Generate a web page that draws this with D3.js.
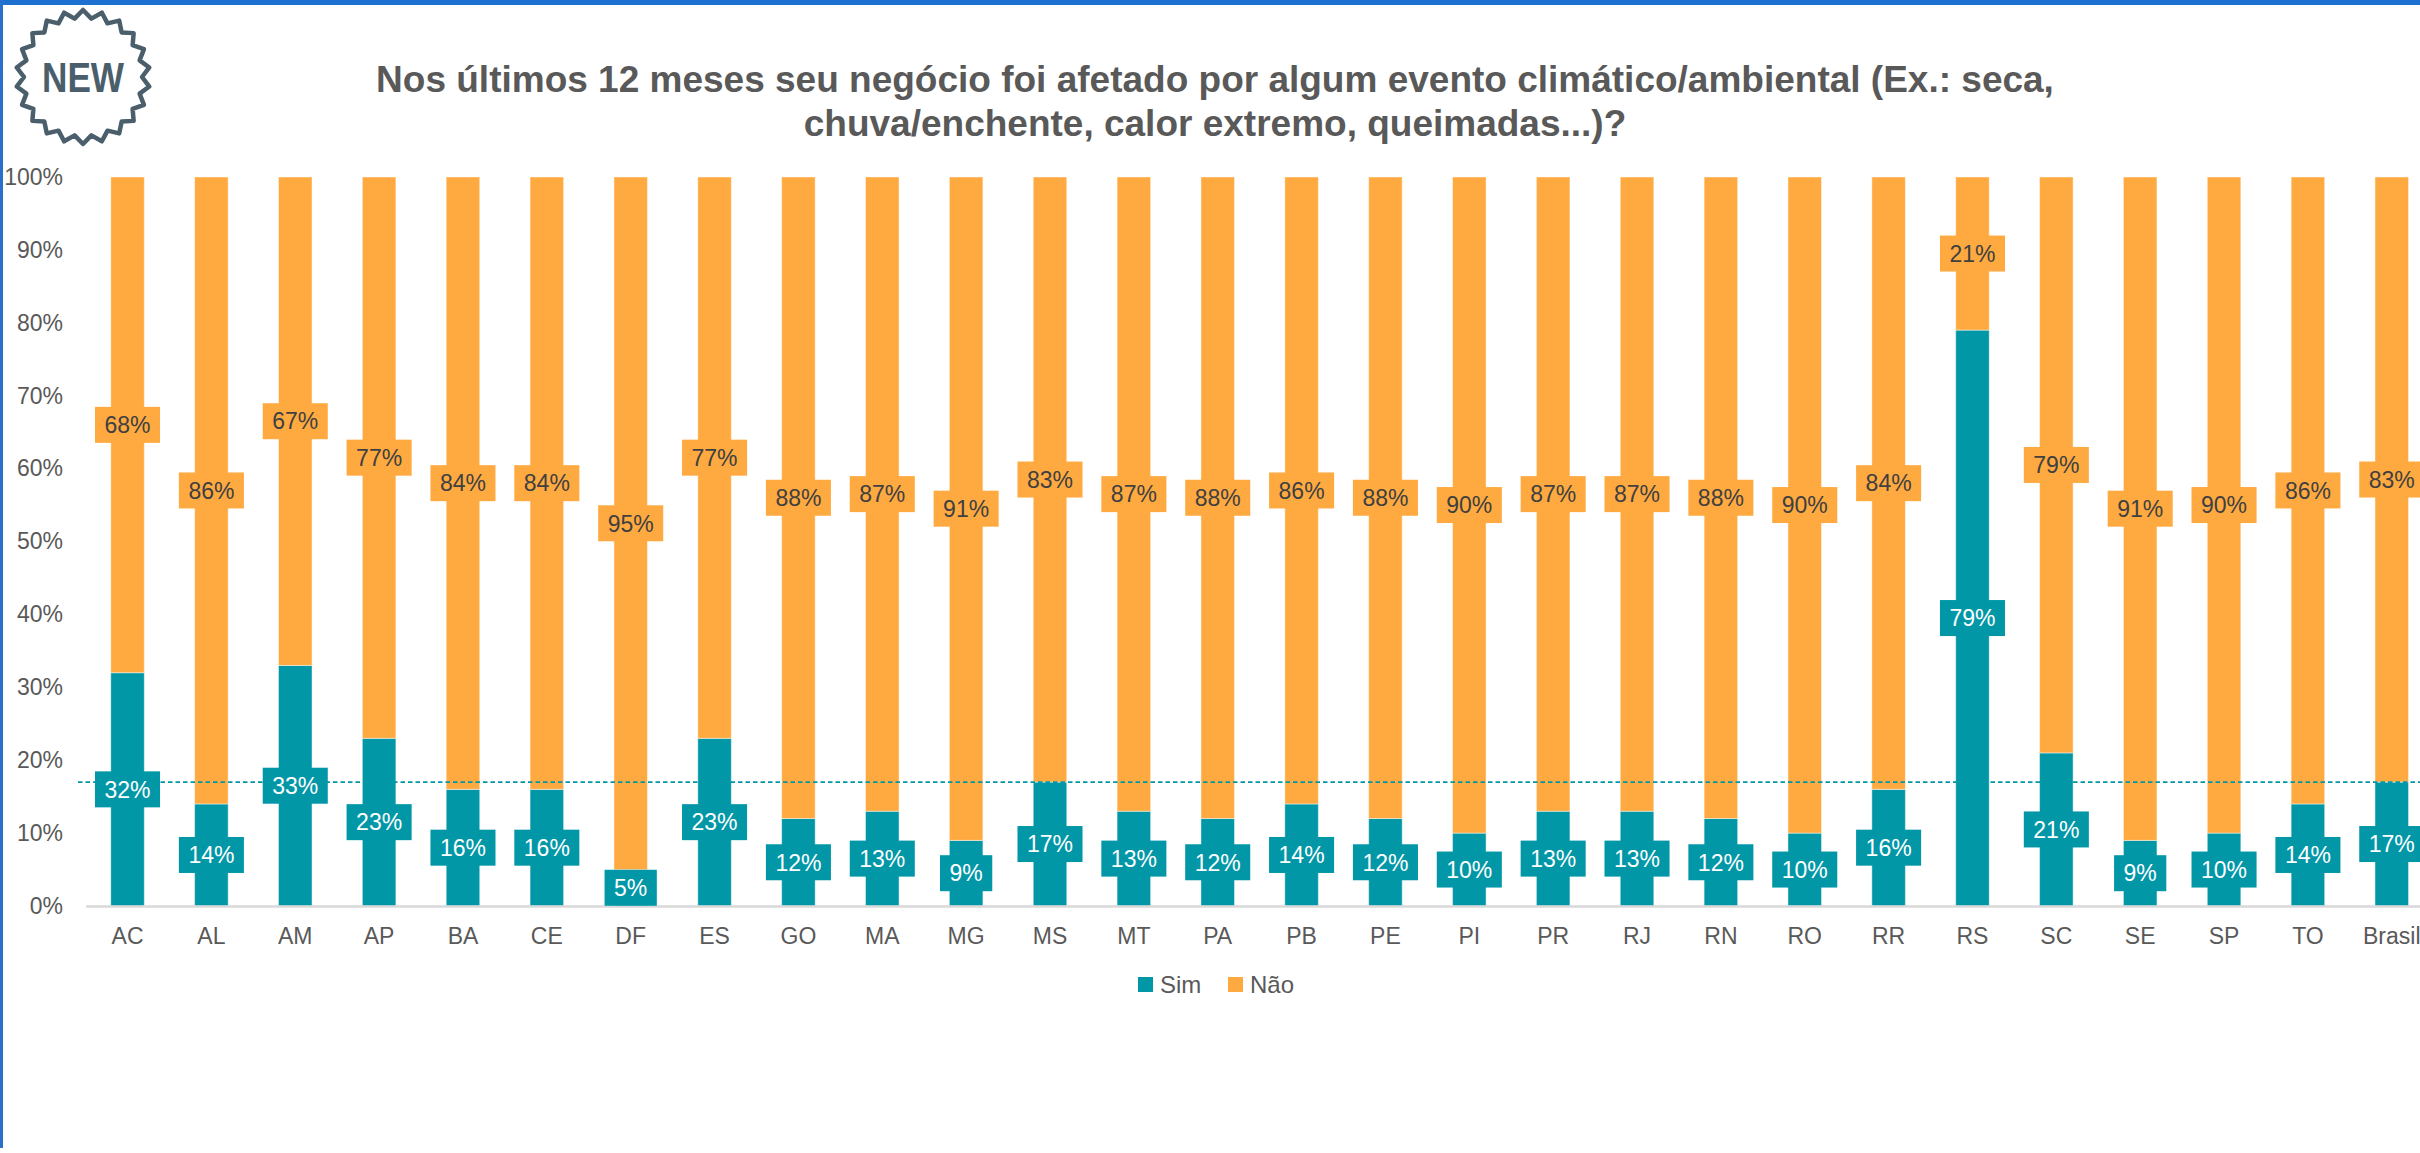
<!DOCTYPE html>
<html>
<head>
<meta charset="utf-8">
<script src="https://cdn.jsdelivr.net/npm/d3@7"></script>
<style>
  html, body { margin: 0; padding: 0; background: #ffffff; overflow: hidden; }
  svg { display: block; font-family: "Liberation Sans", Arial, sans-serif; }
</style>
</head>
<body>
<svg id="chart" width="2420" height="1153"></svg>
<script>
// ---- data ----
const categories = ["AC","AL","AM","AP","BA","CE","DF","ES","GO","MA","MG","MS","MT","PA","PB","PE","PI","PR","RJ","RN","RO","RR","RS","SC","SE","SP","TO","Brasil"];
const simValues  = [32,14,33,23,16,16,5,23,12,13,9,17,13,12,14,12,10,13,13,12,10,16,79,21,9,10,14,17];
const naoValues  = [68,86,67,77,84,84,95,77,88,87,91,83,87,88,86,88,90,87,87,88,90,84,21,79,91,90,86,83];
const yTicks     = [0,10,20,30,40,50,60,70,80,90,100];
const seriesNames = ["Sim","Não"];
const referenceValue = 17; // Brasil average line
const titleLines = [
  "Nos últimos 12 meses seu negócio foi afetado por algum evento climático/ambiental (Ex.: seca,",
  "chuva/enchente, calor extremo, queimadas...)?"
];

// ---- styles ----
const colSim = "#0297a7";
const colNao = "#ffaa40";
const textCol = "#595959";

const svg = d3.select("#chart");

// frame
svg.append("rect").attr("x",0).attr("y",0).attr("width",2420).attr("height",1153).attr("fill","#ffffff");
svg.append("rect").attr("x",0).attr("y",0).attr("width",2420).attr("height",5).attr("fill","#1d6fd0");
svg.append("rect").attr("x",0).attr("y",0).attr("width",3).attr("height",1148).attr("fill","#2a6fc9");

// NEW badge
(function(){
  const cx = 83, cy = 77, rOut = 67, rIn = 59, n = 22;
  const pts = [];
  for (let i = 0; i < n*2; i++) {
    const a = -Math.PI/2 + i * Math.PI / n;
    const r = i % 2 === 0 ? rOut : rIn;
    pts.push([cx + r*Math.cos(a), cy + r*Math.sin(a)]);
  }
  svg.append("path").attr("d", d3.line().curve(d3.curveLinearClosed)(pts))
    .attr("fill","none").attr("stroke","#4a5e6b").attr("stroke-width",4.5).attr("stroke-linejoin","round");
  svg.append("text").attr("x",cx).attr("y",cy+15).attr("text-anchor","middle")
    .attr("font-size",42).attr("font-weight","bold").attr("fill","#4a5e6b")
    .attr("textLength",82).attr("lengthAdjust","spacingAndGlyphs").text("NEW");
})();

// title
svg.append("g").selectAll("text").data(titleLines).join("text")
  .attr("x",1215).attr("y",(d,i)=>92 + i*44)
  .attr("text-anchor","middle").attr("font-size",37).attr("font-weight","bold")
  .attr("fill",textCol).text(d=>d);

// scales
const x = d3.scaleBand().domain(categories).range([85.6, 2433.7]).paddingInner(0.6).paddingOuter(0.3);
const y = d3.scaleLinear().domain([0,100]).range([906,177]);

// y tick labels
const yAxis = d3.axisLeft(y).tickValues(yTicks).tickFormat(d=>d+"%").tickSize(0).tickPadding(0);
const gy = svg.append("g").attr("transform","translate(63,0)").call(yAxis);
gy.select(".domain").remove();
gy.selectAll("text").attr("font-size",23).attr("fill",textCol).attr("font-family","Liberation Sans, Arial, sans-serif");

// bars
const rows = categories.map((c,i)=>({cat:c, sim:simValues[i], nao:naoValues[i]}));
const stack = d3.stack().keys(["sim","nao"])(rows);
const colors = [colSim, colNao];
stack.forEach((layer, k) => {
  svg.append("g").selectAll("rect").data(layer).join("rect")
    .attr("x", d=>x(d.data.cat))
    .attr("width", x.bandwidth())
    .attr("y", d=>y(d[1]))
    .attr("height", d=>y(d[0]) - y(d[1]))
    .attr("fill", colors[k])
    .attr("stroke","rgba(255,255,255,0.45)").attr("stroke-width",1);
});

// x axis
const xAxis = d3.axisBottom(x).tickSize(0).tickPadding(0);
const gx = svg.append("g").attr("transform","translate(0,906)").call(xAxis);
gx.select(".domain").attr("stroke","#d9d9d9").attr("stroke-width",2.5);
gx.selectAll("text").attr("font-size",23).attr("fill",textCol).attr("dy",null).attr("y",38)
  .attr("font-family","Liberation Sans, Arial, sans-serif");

// reference dashed line
svg.append("line").attr("x1",78).attr("x2",2420)
  .attr("y1",y(referenceValue)).attr("y2",y(referenceValue))
  .attr("stroke",colSim).attr("stroke-width",1.8).attr("stroke-dasharray","4.5,3");

// data labels
function drawLabels(layer, fill, txtCol) {
  const g = svg.append("g").selectAll("g").data(layer).join("g")
    .attr("transform", d=>`translate(${x(d.data.cat)+x.bandwidth()/2},${y((d[0]+d[1])/2)})`);
  g.append("text").attr("text-anchor","middle").attr("dy","0.36em")
    .attr("font-size",23).attr("fill",txtCol)
    .text(d=>Math.round(d[1]-d[0])+"%");
  g.each(function(){
    const t = d3.select(this).select("text");
    const w = t.node().getComputedTextLength();
    d3.select(this).insert("rect","text")
      .attr("x",-(w+19)/2).attr("y",-18).attr("width",w+19).attr("height",36).attr("fill",fill);
  });
}
drawLabels(stack[0], colSim, "#ffffff");
drawLabels(stack[1], colNao, "#404040");

// legend
const legend = svg.append("g").attr("transform","translate(1138,977)");
const legX = [0, 90];
seriesNames.forEach((name,i)=>{
  const g = legend.append("g").attr("transform",`translate(${legX[i]},0)`);
  g.append("rect").attr("width",15).attr("height",15).attr("fill",colors[i]);
  g.append("text").attr("x",22).attr("y",15.5).attr("font-size",24).attr("fill",textCol).text(name);
});
</script>
</body>
</html>
